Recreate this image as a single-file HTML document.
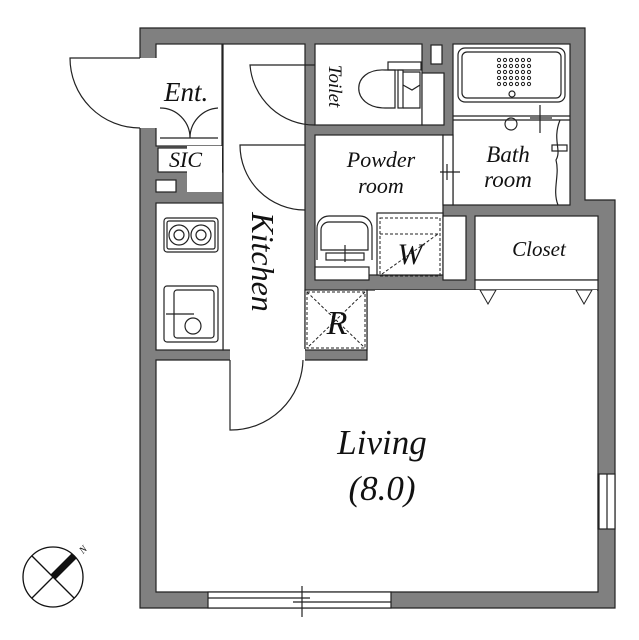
<!DOCTYPE html>
<html><head><style>body{margin:0;background:#fff}svg{display:block}
text{font-family:"Liberation Serif",serif;font-style:italic;fill:#111}</style></head>
<body>
<svg width="639" height="640" viewBox="0 0 639 640" xmlns="http://www.w3.org/2000/svg">
<polygon points="140,28 585,28 585,200 615,200 615,608 140,608" fill="#808080" stroke="#222" stroke-width="1.2"/>
<g fill="#fff" stroke="#222" stroke-width="1.2">
<rect x="156" y="44" width="66" height="102"/>
<rect x="158" y="148" width="64" height="24"/>
<rect x="156" y="180" width="20" height="12"/>
<rect x="187" y="146" width="35" height="46" stroke="none"/>
<rect x="223" y="44" width="82" height="306"/>
<rect x="156" y="203" width="67" height="147"/>
<rect x="315" y="44" width="107" height="81"/>
<rect x="422" y="73" width="22" height="52"/>
<rect x="431" y="45" width="11" height="19"/>
<rect x="453" y="44" width="117" height="161"/>
<rect x="315" y="135" width="128" height="140"/>
<rect x="443" y="135" width="10" height="70"/>
<rect x="377" y="213" width="66" height="62"/>
<rect x="315" y="267" width="54" height="13"/>
<rect x="443" y="216" width="23" height="64"/>
<rect x="475" y="216" width="123" height="64"/>
<rect x="475" y="280" width="123" height="10"/>
<path d="M156,360 L367,360 L367,290 L598,290 L598,592 L156,592 Z"/>
<rect x="375" y="290" width="222" height="80" stroke="none"/>
<rect x="305" y="290" width="62" height="60"/>
<rect x="230" y="349" width="75" height="12" stroke="none"/>
<rect x="208" y="592" width="183" height="16"/>
<rect x="598" y="474" width="17" height="55"/>
<rect x="139" y="58" width="18" height="70" stroke="none"/>
</g>
<g fill="none" stroke="#222" stroke-width="1.2">
<path d="M140,58 L70,58 A70,70 0 0 0 140,128"/>
<path d="M315,65 L250,65 A65,65 0 0 0 315,125"/>
<path d="M305,145 L240,145 A65,65 0 0 0 305,210"/>
<path d="M230,360 L230,430 A72,72 0 0 0 303,360"/>
<path d="M160,108 A30,30 0 0 1 190,138 A30,30 0 0 1 218,108"/>
<line x1="160" y1="138" x2="218" y2="138"/>
<line x1="599" y1="474" x2="599" y2="529"/><line x1="607" y1="474" x2="607" y2="529"/>
<line x1="208" y1="598" x2="310" y2="598"/><line x1="293" y1="602" x2="391" y2="602"/>
<line x1="302" y1="586" x2="302" y2="617"/>
<path d="M395,70 L385,70 C350,68 350,108 385,108 L395,108 Z"/>
<rect x="388" y="62" width="33" height="8"/>
<rect x="398" y="70" width="5" height="38"/>
<path d="M403,72 L420,72 L420,108 L403,108 M403,85 L412,90 L420,85"/>
<rect x="458" y="48" width="107" height="54" rx="7"/>
<rect x="462" y="52" width="99" height="46" rx="5"/>
<circle cx="512" cy="94" r="3"/>
<line x1="453" y1="116" x2="570" y2="116"/><line x1="453" y1="120" x2="570" y2="120"/>
<circle cx="511" cy="124" r="6"/>
<path d="M540,105 L540,133 M530,118 L552,118"/>
<path d="M560,120 C552,140 562,150 556,160 C560,175 552,190 558,205"/>
<rect x="552" y="145" width="15" height="6"/>
<line x1="440" y1="172" x2="460" y2="172"/><line x1="447" y1="164" x2="447" y2="180"/>
<path d="M317,260 L317,228 A12,12 0 0 1 329,216 L360,216 A12,12 0 0 1 372,228 L372,260"/>
<path d="M321,250 L321,230 A8,8 0 0 1 329,222 L360,222 A8,8 0 0 1 368,230 L368,250 Z"/>
<rect x="326" y="253" width="38" height="7"/>
<line x1="345" y1="245" x2="345" y2="262"/>
<rect x="164" y="218" width="54" height="34" rx="3"/>
<rect x="167" y="221" width="48" height="28" rx="2"/>
<circle cx="179" cy="235" r="10"/><circle cx="201" cy="235" r="10"/>
<circle cx="179" cy="235" r="5"/><circle cx="201" cy="235" r="5"/>
<rect x="164" y="286" width="54" height="56" rx="3"/>
<rect x="174" y="290" width="40" height="48" rx="3"/>
<circle cx="193" cy="326" r="8"/>
<line x1="166" y1="314" x2="194" y2="314"/>
</g>
<g fill="none" stroke="#222" stroke-width="1" stroke-dasharray="3,2">
<rect x="380" y="218" width="60" height="58"/>
<line x1="380" y1="234" x2="440" y2="234"/>
<line x1="382" y1="274" x2="438" y2="234"/>
<rect x="307" y="292" width="58" height="56"/>
<line x1="307" y1="292" x2="365" y2="348"/><line x1="365" y1="292" x2="307" y2="348"/>
</g>
<g fill="none" stroke="#222" stroke-width="1">
<circle cx="499" cy="60" r="1.6"/><circle cx="505" cy="60" r="1.6"/><circle cx="511" cy="60" r="1.6"/><circle cx="517" cy="60" r="1.6"/><circle cx="523" cy="60" r="1.6"/><circle cx="529" cy="60" r="1.6"/>
<circle cx="499" cy="66" r="1.6"/><circle cx="505" cy="66" r="1.6"/><circle cx="511" cy="66" r="1.6"/><circle cx="517" cy="66" r="1.6"/><circle cx="523" cy="66" r="1.6"/><circle cx="529" cy="66" r="1.6"/>
<circle cx="499" cy="72" r="1.6"/><circle cx="505" cy="72" r="1.6"/><circle cx="511" cy="72" r="1.6"/><circle cx="517" cy="72" r="1.6"/><circle cx="523" cy="72" r="1.6"/><circle cx="529" cy="72" r="1.6"/>
<circle cx="499" cy="78" r="1.6"/><circle cx="505" cy="78" r="1.6"/><circle cx="511" cy="78" r="1.6"/><circle cx="517" cy="78" r="1.6"/><circle cx="523" cy="78" r="1.6"/><circle cx="529" cy="78" r="1.6"/>
<circle cx="499" cy="84" r="1.6"/><circle cx="505" cy="84" r="1.6"/><circle cx="511" cy="84" r="1.6"/><circle cx="517" cy="84" r="1.6"/><circle cx="523" cy="84" r="1.6"/><circle cx="529" cy="84" r="1.6"/>
</g>
<polygon points="480,290 496,290 488,304" fill="#fff" stroke="#222"/>
<polygon points="576,290 592,290 584,304" fill="#fff" stroke="#222"/>
<g stroke="#111" stroke-width="1.3" fill="none">
<circle cx="53" cy="577" r="30"/>
<line x1="32" y1="556" x2="74" y2="598"/><line x1="32" y1="598" x2="74" y2="556"/>
</g>
<line x1="53" y1="577" x2="74" y2="556" stroke="#111" stroke-width="7"/>
<text x="80" y="553" font-size="10" transform="rotate(-45 83 550)">N</text>
<text x="164" y="101" font-size="27">Ent.</text>
<text x="169" y="167" font-size="22">SIC</text>
<text x="262" y="272" font-size="32" transform="rotate(90 262 262)" text-anchor="middle">Kitchen</text>
<text x="335" y="92" font-size="19" transform="rotate(90 335 86)" text-anchor="middle">Toilet</text>
<text x="381" y="167" font-size="22" text-anchor="middle">Powder</text>
<text x="381" y="193" font-size="22" text-anchor="middle">room</text>
<text x="508" y="162" font-size="23" text-anchor="middle">Bath</text>
<text x="508" y="187" font-size="23" text-anchor="middle">room</text>
<text x="539" y="256" font-size="21" text-anchor="middle">Closet</text>
<text x="410" y="264" font-size="30" text-anchor="middle">W</text>
<text x="337" y="334" font-size="34" text-anchor="middle">R</text>
<text x="382" y="454" font-size="35" text-anchor="middle">Living</text>
<text x="382" y="500" font-size="35" text-anchor="middle">(8.0)</text>
</svg>
</body></html>
